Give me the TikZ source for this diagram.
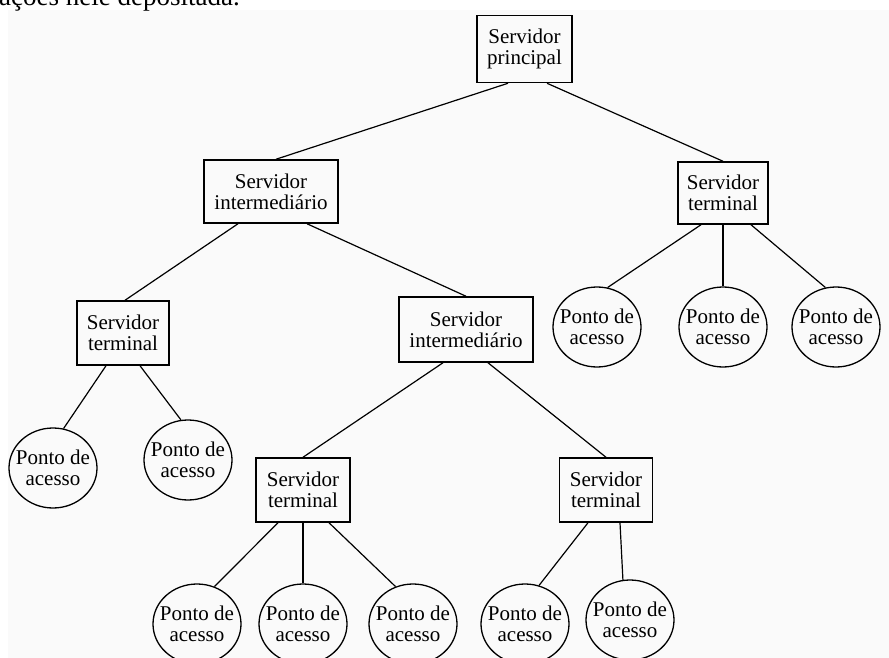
\documentclass[tikz,border=0pt]{standalone}
\usepackage{fontspec}
\setmainfont{Liberation Serif}
\usetikzlibrary{shapes.geometric}
\colorlet{fundo}{black!2}
\tikzset{
  servidor/.style={draw, line width=1.5pt, align=center, inner sep=0pt, font=\fontsize{21}{21}\selectfont},
  ponto/.style={draw, ellipse, line width=1.3pt, align=center, inner xsep=-6pt, inner ysep=0pt, minimum width=88pt, minimum height=80pt, font=\fontsize{21}{21}\selectfont},
  ligacao/.style={line width=1.2pt}
}

\begin{document}
\begin{tikzpicture}[x=1pt, y=-1pt]
  \useasboundingbox (0,0) rectangle (889,658);
  \fill[fundo] (8,10) rectangle (889,658);
  \node[anchor=base west, inner sep=0pt, font=\fontsize{27}{30}\selectfont] (cabecalho) at (-1,6) {ações nele depositada.};

  \node[servidor, minimum width=95pt, minimum height=67pt] (principal) at (524.5,49) {Servidor\\principal};
  \node[servidor, minimum width=134pt, minimum height=63pt] (interL) at (271,191.5) {Servidor\\intermediário};
  \node[servidor, minimum width=90pt, minimum height=62pt] (termR) at (723,193) {Servidor\\terminal};
  \node[servidor, minimum width=92pt, minimum height=64pt] (termL) at (123,333) {Servidor\\terminal};
  \node[servidor, minimum width=134pt, minimum height=65pt] (interM) at (466,329.5) {Servidor\\intermediário};
  \node[servidor, minimum width=94pt, minimum height=64pt] (termBM) at (303,490) {Servidor\\terminal};
  \node[servidor, minimum width=93pt, minimum height=64pt] (termBR) at (606,490) {Servidor\\terminal};

  \node[ponto] (pR1) at (597,327) {Ponto de\\acesso};
  \node[ponto] (pR2) at (723,327) {Ponto de\\acesso};
  \node[ponto] (pR3) at (836,327) {Ponto de\\acesso};
  \node[ponto] (pL1) at (53,468) {Ponto de\\acesso};
  \node[ponto] (pL2) at (188,460) {Ponto de\\acesso};
  \node[ponto] (pB1) at (197,624) {Ponto de\\acesso};
  \node[ponto] (pB2) at (303,624) {Ponto de\\acesso};
  \node[ponto] (pB3) at (413,624) {Ponto de\\acesso};
  \node[ponto] (pB4) at (525,624) {Ponto de\\acesso};
  \node[ponto] (pB5) at (630,620) {Ponto de\\acesso};

  \draw[ligacao] ([xshift=-16.5pt]principal.south) -- ([xshift=5pt]interL.north);
  \draw[ligacao] ([xshift=22.5pt]principal.south) -- (termR.north);
  \draw[ligacao] ([xshift=-33pt]interL.south) -- ([xshift=2pt]termL.north);
  \draw[ligacao] ([xshift=36pt]interL.south) -- (interM.north);
  \draw[ligacao] ([xshift=-22pt]termR.south) -- (pR1.75);
  \draw[ligacao] (termR.south) -- (pR2.north);
  \draw[ligacao] ([xshift=28pt]termR.south) -- (pR3.105);
  \draw[ligacao] ([xshift=-17pt]termL.south) -- (pL1.75);
  \draw[ligacao] ([xshift=17pt]termL.south) -- (pL2.100);
  \draw[ligacao] ([xshift=-23pt]interM.south) -- (termBM.north);
  \draw[ligacao] ([xshift=22pt]interM.south) -- (termBR.north);
  \draw[ligacao] ([xshift=-25pt]termBM.south) -- (pB1.65);
  \draw[ligacao] (termBM.south) -- (pB2.north);
  \draw[ligacao] ([xshift=26pt]termBM.south) -- (pB3.115);
  \draw[ligacao] ([xshift=-18pt]termBR.south) -- (pB4.70);
  \draw[ligacao] ([xshift=14pt]termBR.south) -- (pB5.100);
\end{tikzpicture}
\end{document}
